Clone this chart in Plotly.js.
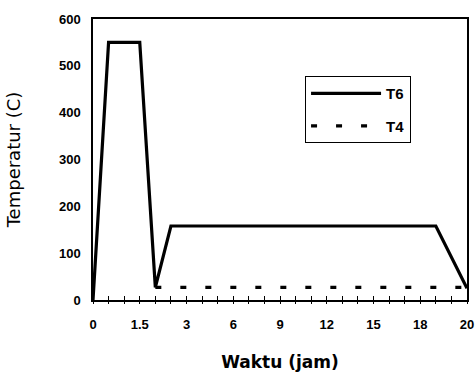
<!DOCTYPE html>
<html>
<head>
<meta charset="utf-8">
<script src="https://cdn.plot.ly/plotly-3.0.1.min.js"></script>
<style>html,body{margin:0;padding:0;background:#fff;}#chart{width:476px;height:373px;}</style>
</head>
<body>
<div id="chart"></div>
<script>
// category positions (Excel-style category axis, 25 ticks, labelled every 3rd)
const tickIdx = [0, 3, 6, 9, 12, 15, 18, 21, 24];
const tickLabels = ['0', '1.5', '3', '6', '9', '12', '15', '18', '20'];
const nCats = 25;
const yTicks = [0, 100, 200, 300, 400, 500, 600];

// T6 series (category index, temperature)
const t6Idx = [0, 1, 3, 4, 5, 22, 24];
const t6Val = [0, 550, 550, 27, 158, 158, 25];

// T4 series
const t4Idx = [4, 24];
const t4Val = [27, 27];

const allTicks = [];
const allText = [];
for (let i = 0; i < nCats; i++) {
  allTicks.push(i);
  const k = tickIdx.indexOf(i);
  allText.push(k >= 0 ? tickLabels[k] : '');
}

const traces = [
  {x: t6Idx, y: t6Val, name: 'T6', mode: 'lines', legendgroup: 'a',
   line: {color: '#000', width: 3.2}},
  {x: t4Idx, y: t4Val, name: 'T4', mode: 'lines', legendgroup: 'b',
   line: {color: '#000', width: 3.2, dash: '6px,19px'}},
  {x: [0, 24], y: [null, null], xaxis: 'x2', showlegend: false, hoverinfo: 'skip', mode: 'lines'}
];

const tickFont = {family: 'Liberation Sans, Arial, sans-serif', size: 13, color: '#000', weight: 'bold'};

const layout = {
  width: 476, height: 373,
  margin: {l: 93, r: 9, t: 19, b: 73},
  paper_bgcolor: '#fff', plot_bgcolor: '#fff',
  showlegend: true,
  legend: {
    x: 0.567, y: 0.797, xanchor: 'left', yanchor: 'top',
    bordercolor: '#000', borderwidth: 1, bgcolor: '#fff',
    font: {family: 'Liberation Sans, Arial, sans-serif', size: 15, color: '#000', weight: 'bold'},
    itemwidth: 70, tracegroupgap: 10, traceorder: 'grouped'
  },
  xaxis: {
    range: [0, 24], showgrid: false, zeroline: false,
    showline: true, mirror: true, linecolor: '#000', linewidth: 1.8,
    tickmode: 'array', tickvals: allTicks, ticktext: allText,
    ticks: 'inside', ticklen: 4, tickwidth: 1, tickcolor: '#000',
    tickfont: tickFont, ticklabelstandoff: 12,
    title: {text: 'Waktu (jam)', standoff: 25,
      font: {family: 'DejaVu Sans, sans-serif', size: 17, color: '#000', weight: 'bold'}}
  },
  xaxis2: {
    range: [0, 24], overlaying: 'x', anchor: 'y', side: 'bottom',
    showgrid: false, zeroline: false, showline: false,
    tickmode: 'array', tickvals: allTicks, ticktext: allTicks.map(() => ''),
    ticks: 'outside', ticklen: 3, tickwidth: 1, tickcolor: '#000', showticklabels: false
  },
  yaxis: {
    range: [0, 600], showgrid: false, zeroline: false,
    showline: true, mirror: true, linecolor: '#000', linewidth: 1.6,
    tickmode: 'array', tickvals: yTicks, ticks: '',
    tickfont: tickFont, ticklabelstandoff: 8,
    title: {text: 'Temperatur (C)', standoff: 34,
      font: {family: 'DejaVu Sans, sans-serif', size: 18, color: '#000'}}
  }
};

Plotly.newPlot('chart', traces, layout, {staticPlot: true, displayModeBar: false});
</script>
</body>
</html>
